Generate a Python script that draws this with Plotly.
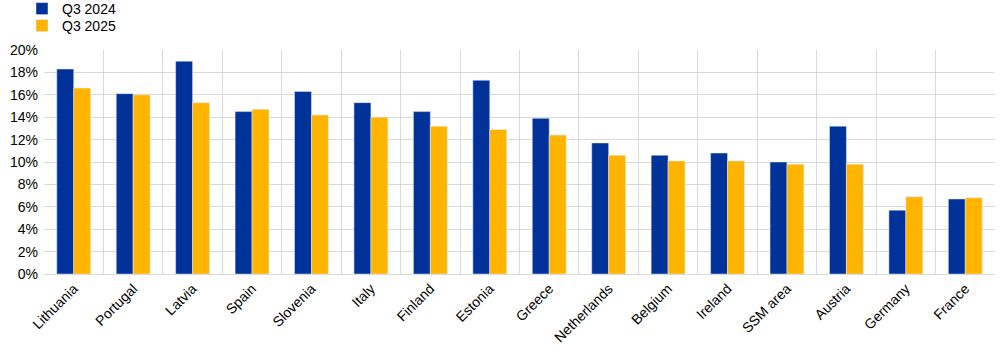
import plotly.graph_objects as go

categories = ["Lithuania", "Portugal", "Latvia", "Spain", "Slovenia", "Italy", "Finland",
              "Estonia", "Greece", "Netherlands", "Belgium", "Ireland", "SSM area",
              "Austria", "Germany", "France"]
q3_2024 = [18.3, 16.1, 19.0, 14.5, 16.3, 15.3, 14.5, 17.3, 13.9, 11.7, 10.6, 10.8, 10.0, 13.2, 5.7, 6.7]
q3_2025 = [16.6, 16.0, 15.3, 14.7, 14.2, 14.0, 13.2, 12.9, 12.4, 10.6, 10.1, 10.1, 9.8, 9.8, 6.9, 6.8]
y_ticks = [0, 2, 4, 6, 8, 10, 12, 14, 16, 18, 20]

W, H = 1006, 356

fig = go.Figure()
fig.add_trace(go.Bar(x=categories, y=q3_2024, name="Q3 2024", marker_color="#003299", legend="legend"))
fig.add_trace(go.Bar(x=categories, y=q3_2025, name="Q3 2025", marker_color="#FFB400", legend="legend2"))

legend_common = dict(xref="container", yref="container", xanchor="left", yanchor="middle",
                     font=dict(size=14), bgcolor="rgba(0,0,0,0)", itemwidth=30)

fig.update_layout(
    width=W, height=H,
    margin=dict(l=44, r=11, t=50, b=82, autoexpand=False),
    plot_bgcolor="white", paper_bgcolor="white",
    font=dict(family="Liberation Sans, Arial, sans-serif", size=14, color="#000000"),
    barmode="group", bargap=0.43, bargroupgap=0,
    legend=dict(x=22 / W, y=1 - 9 / H, **legend_common),
    legend2=dict(x=22 / W, y=1 - 26 / H, **legend_common),
    showlegend=True,
)
fig.update_xaxes(tickangle=-45, tickson="boundaries", showgrid=True, gridcolor="#d9d9d9", gridwidth=1,
                 ticks="", showline=True, linecolor="#d9d9d9", linewidth=1, automargin=False)
fig.update_yaxes(range=[0, 20], tickvals=y_ticks, ticktext=[f"{v}%" for v in y_ticks],
                 showgrid=True, gridcolor="#d9d9d9", gridwidth=1, zeroline=False,
                 showline=False, ticks="", ticklen=0, automargin=False, ticklabelstandoff=5)

fig.write_html("out.html", config={"displayModeBar": False},
               post_script="document.body.style.margin='0';")
